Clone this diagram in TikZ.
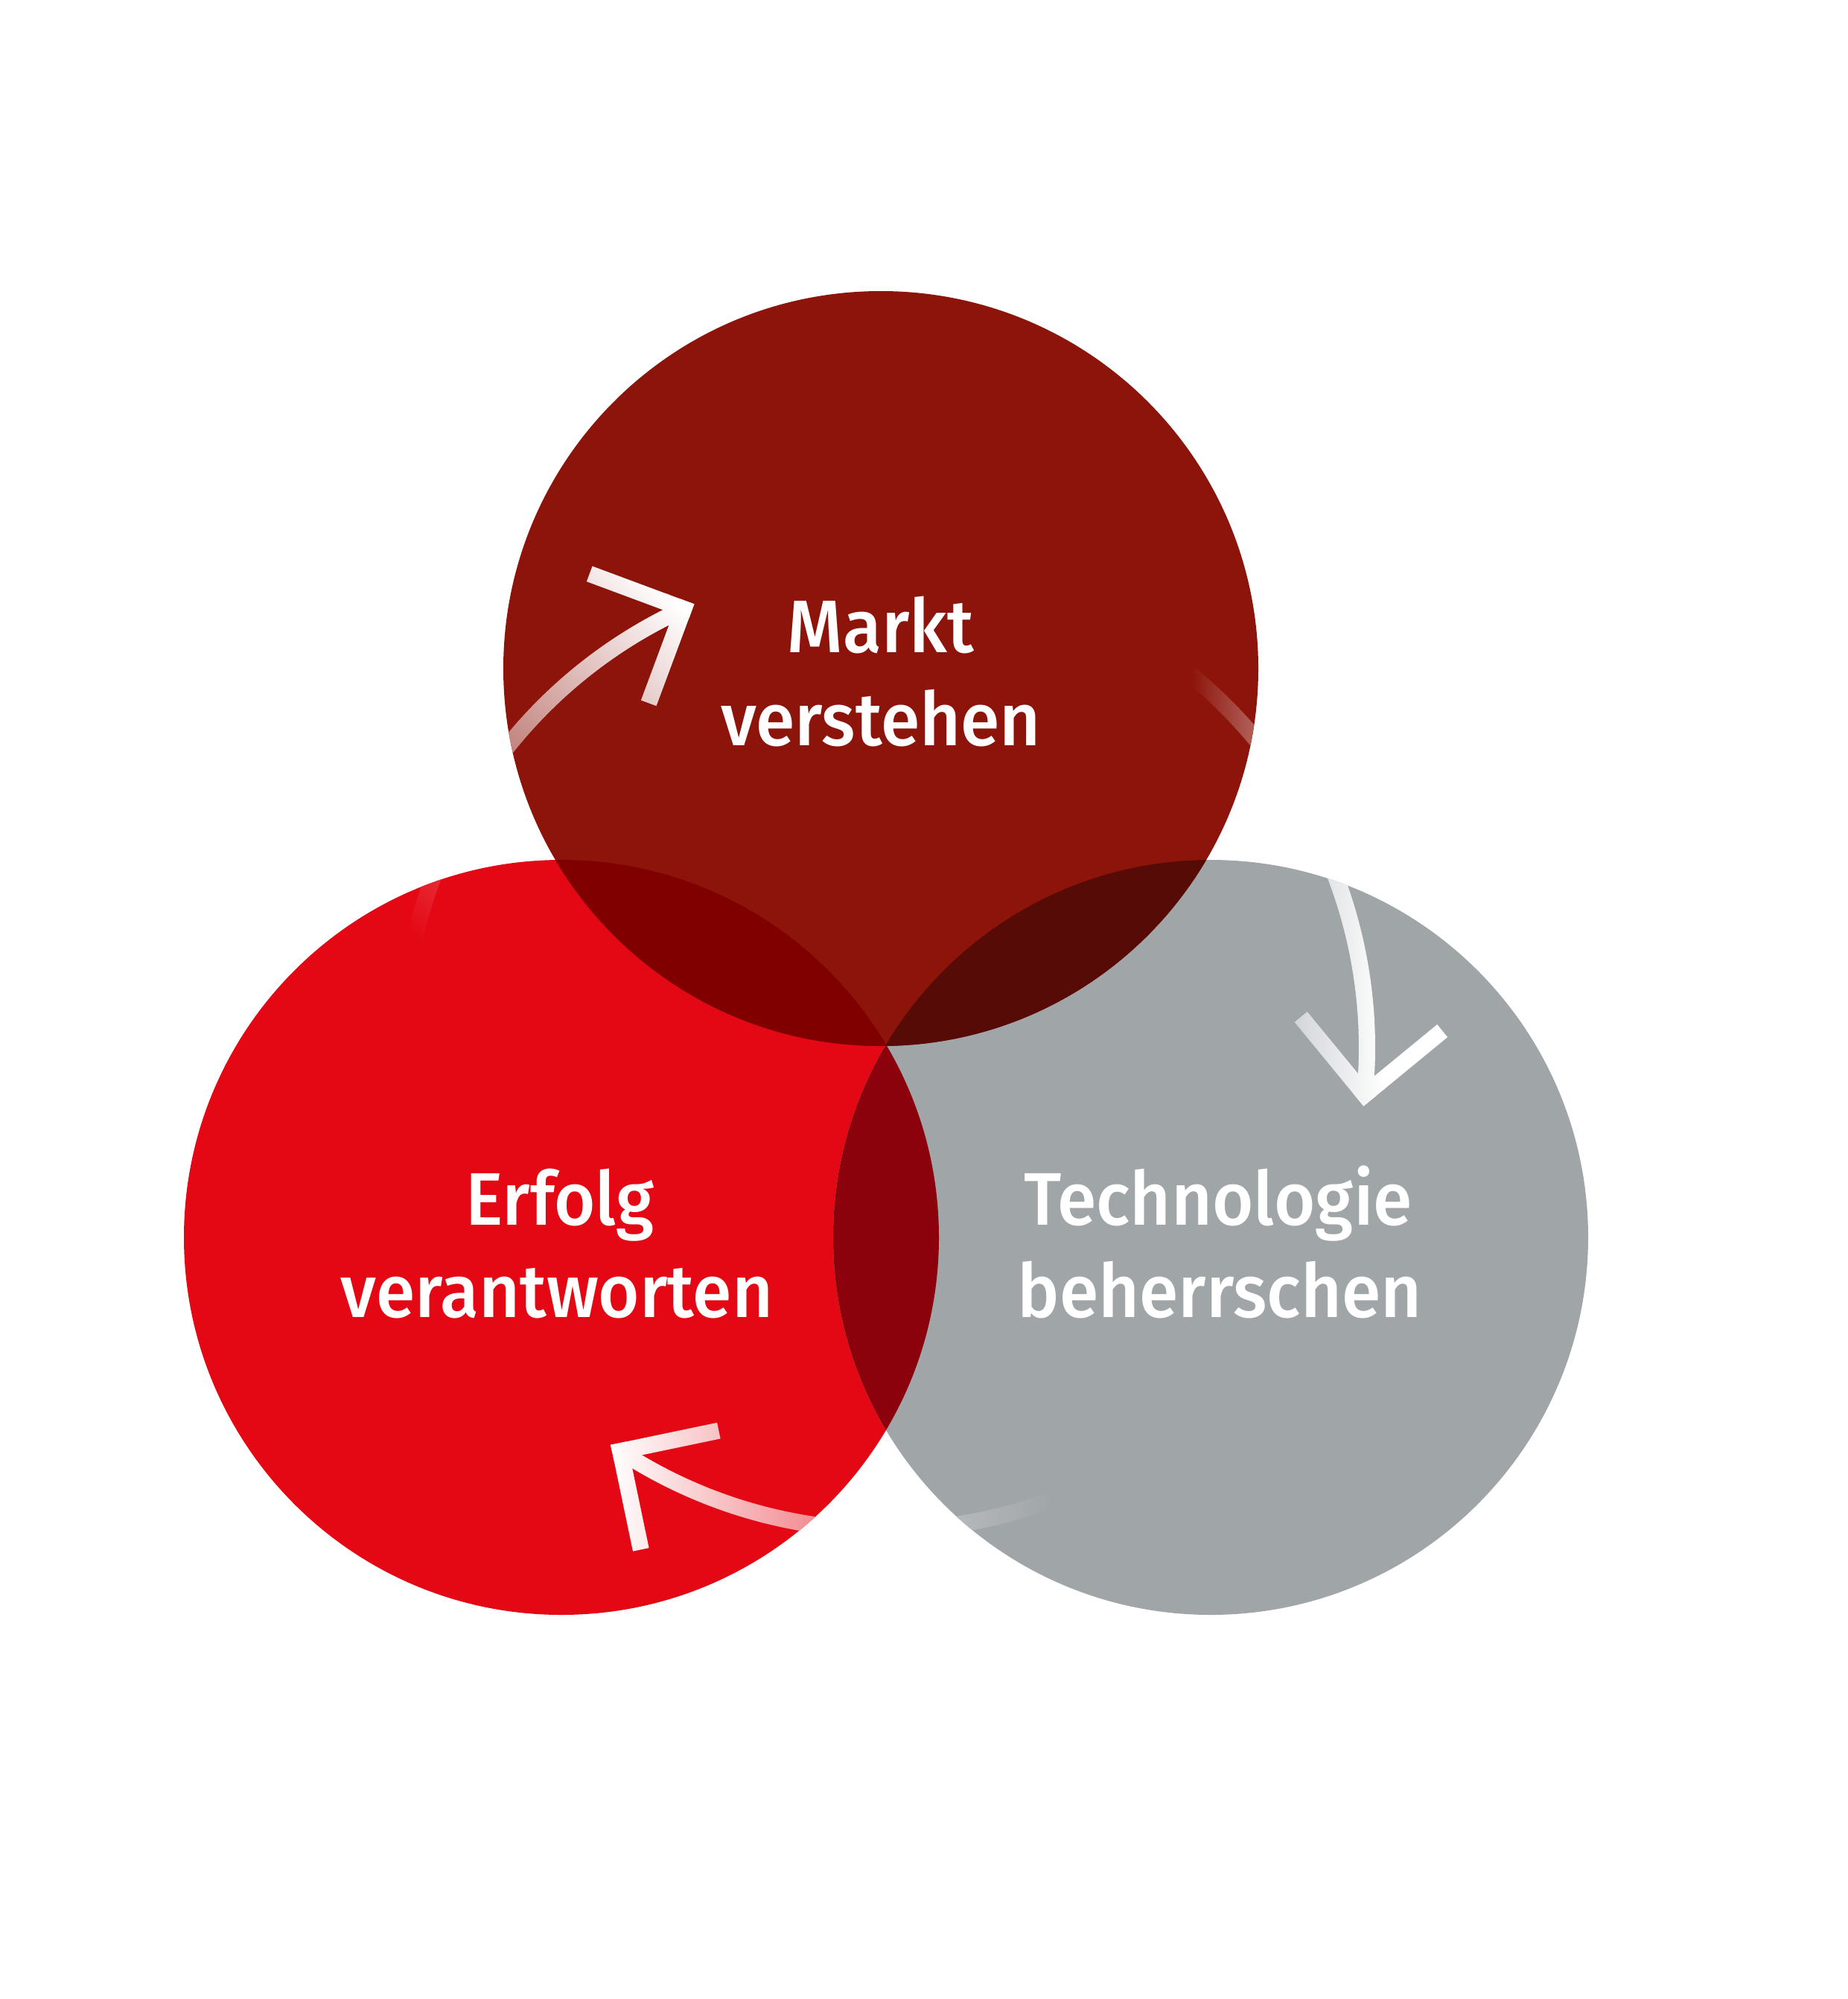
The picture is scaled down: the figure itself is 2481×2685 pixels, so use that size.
\documentclass[tikz,border=0pt]{standalone}
\usepackage{fontspec}
\newfontfamily\labelfont{Fira Sans Medium}[FakeStretch=0.95]
\usetikzlibrary{calc}
\definecolor{cTop}{HTML}{8C140A}
\definecolor{cLeft}{HTML}{E30813}
\definecolor{cRight}{HTML}{A0A5A8}
\definecolor{cTL}{HTML}{800000}
\definecolor{cTR}{HTML}{560B06}
\definecolor{cLR}{HTML}{8B020C}

\tikzset{
  lbl/.style={text=white, font=\labelfont\fontsize{28.45pt}{34pt}\selectfont, anchor=base, inner sep=0pt},
}

% gradient from colour #1 to white, centred at #2, direction #3 (canvas degrees), half length #4
\newcommand\gradfill[4]{%
  \begin{scope}[transform canvas={shift={#2}, rotate=#3}]
    \shade[left color=#1, right color=white] (-#4,-3000) rectangle (#4,3000);
    \fill[white] (#4-2,-3000) rectangle (3000,3000);
  \end{scope}}

% paint one piece of an arrow (closed path #1) over every coloured region
\newcommand\paintpiece[4]{%
  \begin{scope}\clip (L) circle[radius=507]; \clip #1; \gradfill{cLeft}{#2}{#3}{#4}\end{scope}
  \begin{scope}\clip (R) circle[radius=507]; \clip #1; \gradfill{cRight}{#2}{#3}{#4}\end{scope}
  \begin{scope}\clip (T) circle[radius=507]; \clip #1; \gradfill{cTop}{#2}{#3}{#4}\end{scope}
  \begin{scope}\clip (L) circle[radius=507]; \clip (R) circle[radius=507]; \clip #1; \gradfill{cLR}{#2}{#3}{#4}\end{scope}
  \begin{scope}\clip (T) circle[radius=507]; \clip (L) circle[radius=507]; \clip #1; \gradfill{cTL}{#2}{#3}{#4}\end{scope}
  \begin{scope}\clip (T) circle[radius=507]; \clip (R) circle[radius=507]; \clip #1; \gradfill{cTR}{#2}{#3}{#4}\end{scope}
}

% arc band of the arrow circle, from angle #1 to #2
\newcommand\paintarc[5]{%
  \paintpiece{($(C)+(#1:659)$) arc[start angle=#1, end angle=#2, radius=659]
    -- ($(C)+(#2:637)$) arc[start angle=#2, end angle=#1, radius=637] -- cycle}{#3}{#4}{#5}}

% arm of an arrow head from point #1 in direction #2
\newcommand\paintarm[5]{%
  \paintpiece{($(#1)+({#2+180}:11)+({#2+90}:11)$) -- ($(#1)+(#2:135)+({#2+90}:11)$)
    -- ($(#1)+(#2:135)+({#2-90}:11)$) -- ($(#1)+({#2+180}:11)+({#2-90}:11)$) -- cycle}{#3}{#4}{#5}}

\begin{document}
\begin{tikzpicture}[x=0.01cm,y=-0.01cm]
\useasboundingbox (0,0) rectangle (2481,2685);
\fill[white] (0,0) rectangle (2481,2685);

\coordinate (T) at (1183,898);
\coordinate (L) at (754,1662);
\coordinate (R) at (1626,1662);
\coordinate (C) at (1188,1407);

% circles
\fill[cLeft] (L) circle[radius=507];
\fill[cRight] (R) circle[radius=507];
\fill[cTop] (T) circle[radius=507];
\begin{scope}
  \clip (L) circle[radius=507];
  \fill[cLR] (R) circle[radius=507];
\end{scope}
\begin{scope}
  \clip (T) circle[radius=507];
  \fill[cTL] (L) circle[radius=507];
  \fill[cTR] (R) circle[radius=507];
\end{scope}

% arrow 1 (left -> top)
\coordinate (a1e) at ($(C)+(245.4:648)$);
\paintarc{185}{245.4}{(700,1000)}{45}{283}
\paintarm{a1e}{110.4}{(700,1000)}{45}{283}
\paintarm{a1e}{200.4}{(700,1000)}{45}{283}

% arrow 2 (top -> right)
\coordinate (a2e) at ($(C)+(5.6:648)$);
\paintarc{-55}{5.6}{(1730,1200)}{0}{130}
\paintarm{a2e}{-39.4}{(1730,1200)}{0}{130}
\paintarm{a2e}{-129.4}{(1730,1200)}{0}{130}

% arrow 3 (right -> left)
\coordinate (a3e) at ($(C)+(123.2:648)$);
\paintarc{62}{123.2}{(1117,2000)}{180}{297}
\paintarm{a3e}{78.2}{(1117,2000)}{180}{297}
\paintarm{a3e}{-11.8}{(1117,2000)}{180}{297}

% labels
\node[lbl] (m1) at (1183,876) {Markt};
\node[lbl] (m2) at (1183,1001) {verstehen};
\node[lbl] (e1) at (752,1645) {Erfolg};
\node[lbl] (e2) at (748,1769) {verantworten};
\node[lbl] (t1) at (1636,1645) {Technologie};
\node[lbl] (t2) at (1638,1769) {beherrschen};
\end{tikzpicture}
\end{document}
